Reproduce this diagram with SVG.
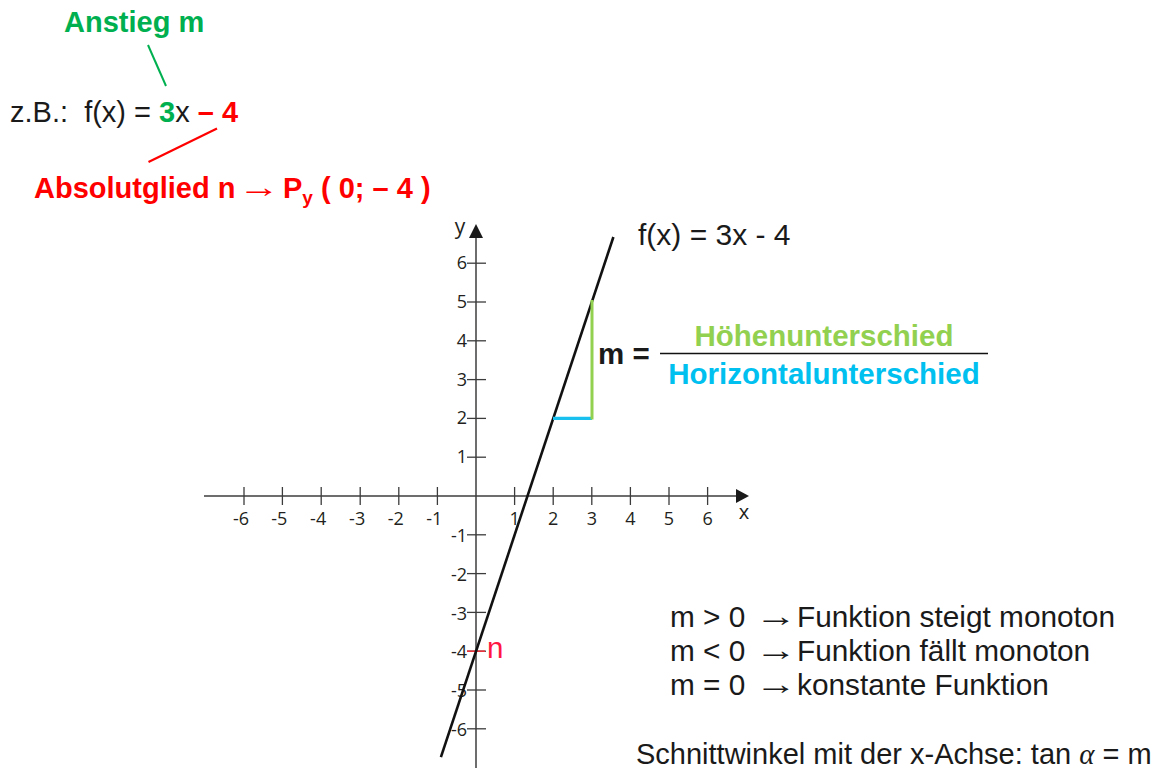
<svg xmlns="http://www.w3.org/2000/svg" width="1169" height="768" viewBox="0 0 1169 768">
<style>
.t{font-family:"Liberation Sans",Arial,sans-serif;font-size:29.5px;fill:#1a1a1a}
.b{font-weight:bold}
.arr{font-family:"Liberation Sans",Arial,sans-serif;font-weight:normal;font-size:30px}
.lab{font-family:"Open Sans","DejaVu Sans",sans-serif;font-size:18px;fill:#231f20}
.ax{stroke:#3c3c3c;stroke-width:1.5;fill:none}
.tk{stroke:#3c3c3c;stroke-width:1.3}
</style>
<rect width="1169" height="768" fill="#ffffff"/>
<g id="axes">
<line class="ax" x1="204" y1="496" x2="740" y2="496"/>
<polygon points="749,496 736,489 736,503" fill="#1a1a1a"/>
<line class="ax" x1="476" y1="768" x2="476" y2="234"/>
<polygon points="476,224 469,238 483,238" fill="#1a1a1a"/>
<g class="tk">
<line x1="244" y1="487" x2="244" y2="505"/><line x1="282.4" y1="487" x2="282.4" y2="505"/><line x1="321.2" y1="487" x2="321.2" y2="505"/><line x1="360.2" y1="487" x2="360.2" y2="505"/><line x1="398.8" y1="487" x2="398.8" y2="505"/><line x1="437.4" y1="487" x2="437.4" y2="505"/>
<line x1="514.6" y1="487" x2="514.6" y2="505"/><line x1="553.2" y1="487" x2="553.2" y2="505"/><line x1="591.8" y1="487" x2="591.8" y2="505"/><line x1="630.4" y1="487" x2="630.4" y2="505"/><line x1="669" y1="487" x2="669" y2="505"/><line x1="707.6" y1="487" x2="707.6" y2="505"/>
<line x1="467" y1="263.2" x2="486" y2="263.2"/><line x1="467" y1="302" x2="486" y2="302"/><line x1="467" y1="340.8" x2="486" y2="340.8"/><line x1="467" y1="379.6" x2="486" y2="379.6"/><line x1="467" y1="418.4" x2="486" y2="418.4"/><line x1="467" y1="457.2" x2="486" y2="457.2"/>
<line x1="467" y1="534.8" x2="486" y2="534.8"/><line x1="467" y1="573.6" x2="486" y2="573.6"/><line x1="467" y1="612.4" x2="486" y2="612.4"/><line x1="467" y1="651.2" x2="486" y2="651.2"/><line x1="467" y1="690" x2="486" y2="690"/><line x1="467" y1="728.8" x2="486" y2="728.8"/>
</g>
<g class="lab" text-anchor="end">
<text x="249" y="525">-6</text><text x="287.4" y="525">-5</text><text x="326.2" y="525">-4</text><text x="365.2" y="525">-3</text><text x="403.8" y="525">-2</text><text x="442.4" y="525">-1</text>
<text x="467" y="269">6</text><text x="467" y="308">5</text><text x="467" y="347">4</text><text x="467" y="386">3</text><text x="467" y="424">2</text><text x="467" y="463">1</text>
<text x="467" y="542">-1</text><text x="467" y="581">-2</text><text x="467" y="620">-3</text><text x="467" y="658">-4</text><text x="467" y="697">-5</text><text x="467" y="736">-6</text>
</g>
<g class="lab" text-anchor="middle">
<text x="514.6" y="525">1</text><text x="553.2" y="525">2</text><text x="591.8" y="525">3</text><text x="630.4" y="525">4</text><text x="669" y="525">5</text><text x="707.6" y="525">6</text>
</g>
<text class="lab" x="460" y="234" text-anchor="middle" style="font-size:21px">y</text>
<text class="lab" x="744" y="519" text-anchor="middle" style="font-size:20px">x</text>
<line x1="467" y1="651.2" x2="485" y2="651.2" stroke="#e8333c" stroke-width="1.6"/>
</g>
<g id="graph">
<line x1="440.9" y1="757.1" x2="613.4" y2="237" stroke="#111111" stroke-width="2.6"/>
<line x1="553" y1="418.4" x2="592" y2="418.4" stroke="#17c0ee" stroke-width="3.2"/>
<line x1="592" y1="300" x2="592" y2="419.5" stroke="#92d050" stroke-width="3"/>
</g>
<g id="label-n"><text class="t" x="487" y="658" style="fill:#ff1744">n</text></g>
<g id="label-fx"><text class="t" x="638" y="245" style="font-size:30px">f(x) = 3x - 4</text></g>
<g id="node-anstieg"><text class="t b" x="64" y="32" style="fill:#00b050;font-size:29px">Anstieg m</text></g>
<g id="node-example"><text class="t" x="10" y="122" style="font-size:29px" xml:space="preserve">z.B.:  f(x) = <tspan class="b" style="fill:#00b050">3</tspan>x <tspan class="b" style="fill:#ff0000">– 4</tspan></text></g>
<g id="node-absolut">
<text class="t b" x="34" y="198" style="fill:#ff0000;font-size:29px">Absolutglied n<tspan x="283">P</tspan><tspan dy="6" style="font-size:19px">y</tspan><tspan dy="-6" xml:space="preserve"> ( 0; – 4 )</tspan></text>
<text class="arr" transform="translate(238,197) scale(1.4,1)" style="fill:#ff0000">→</text>
</g>
<g id="connectors">
<line x1="148" y1="45" x2="166" y2="86" stroke="#00b050" stroke-width="2"/>
<line x1="217" y1="128.5" x2="148.5" y2="162" stroke="#ff0000" stroke-width="2.2"/>
</g>
<g id="node-formula">
<text class="t b" x="598" y="364">m =</text>
<line x1="660" y1="353.5" x2="988" y2="353.5" stroke="#111111" stroke-width="1.6"/>
<text class="t b" x="824" y="346" text-anchor="middle" style="fill:#92d050">Höhenunterschied</text>
<text class="t b" x="824" y="384" text-anchor="middle" style="fill:#00c0f0">Horizontalunterschied</text>
</g>
<g id="node-rules" class="t" style="font-size:29.8px">
<text x="670" y="627">m &gt; 0<tspan x="797">Funktion steigt monoton</tspan></text>
<text x="670" y="661">m &lt; 0<tspan x="797">Funktion fällt monoton</tspan></text>
<text x="670" y="695">m = 0<tspan x="797">konstante Funktion</tspan></text>
<text class="arr" transform="translate(755,626) scale(1.4,1)" style="fill:#1a1a1a">→</text>
<text class="arr" transform="translate(755,660) scale(1.4,1)" style="fill:#1a1a1a">→</text>
<text class="arr" transform="translate(755,694) scale(1.4,1)" style="fill:#1a1a1a">→</text>
</g>
<g id="node-angle"><text class="t" x="636" y="764" style="font-size:29px">Schnittwinkel mit der x-Achse: tan <tspan style="font-family:'Liberation Serif',serif;font-style:italic">α</tspan> = m</text></g>
</svg>
